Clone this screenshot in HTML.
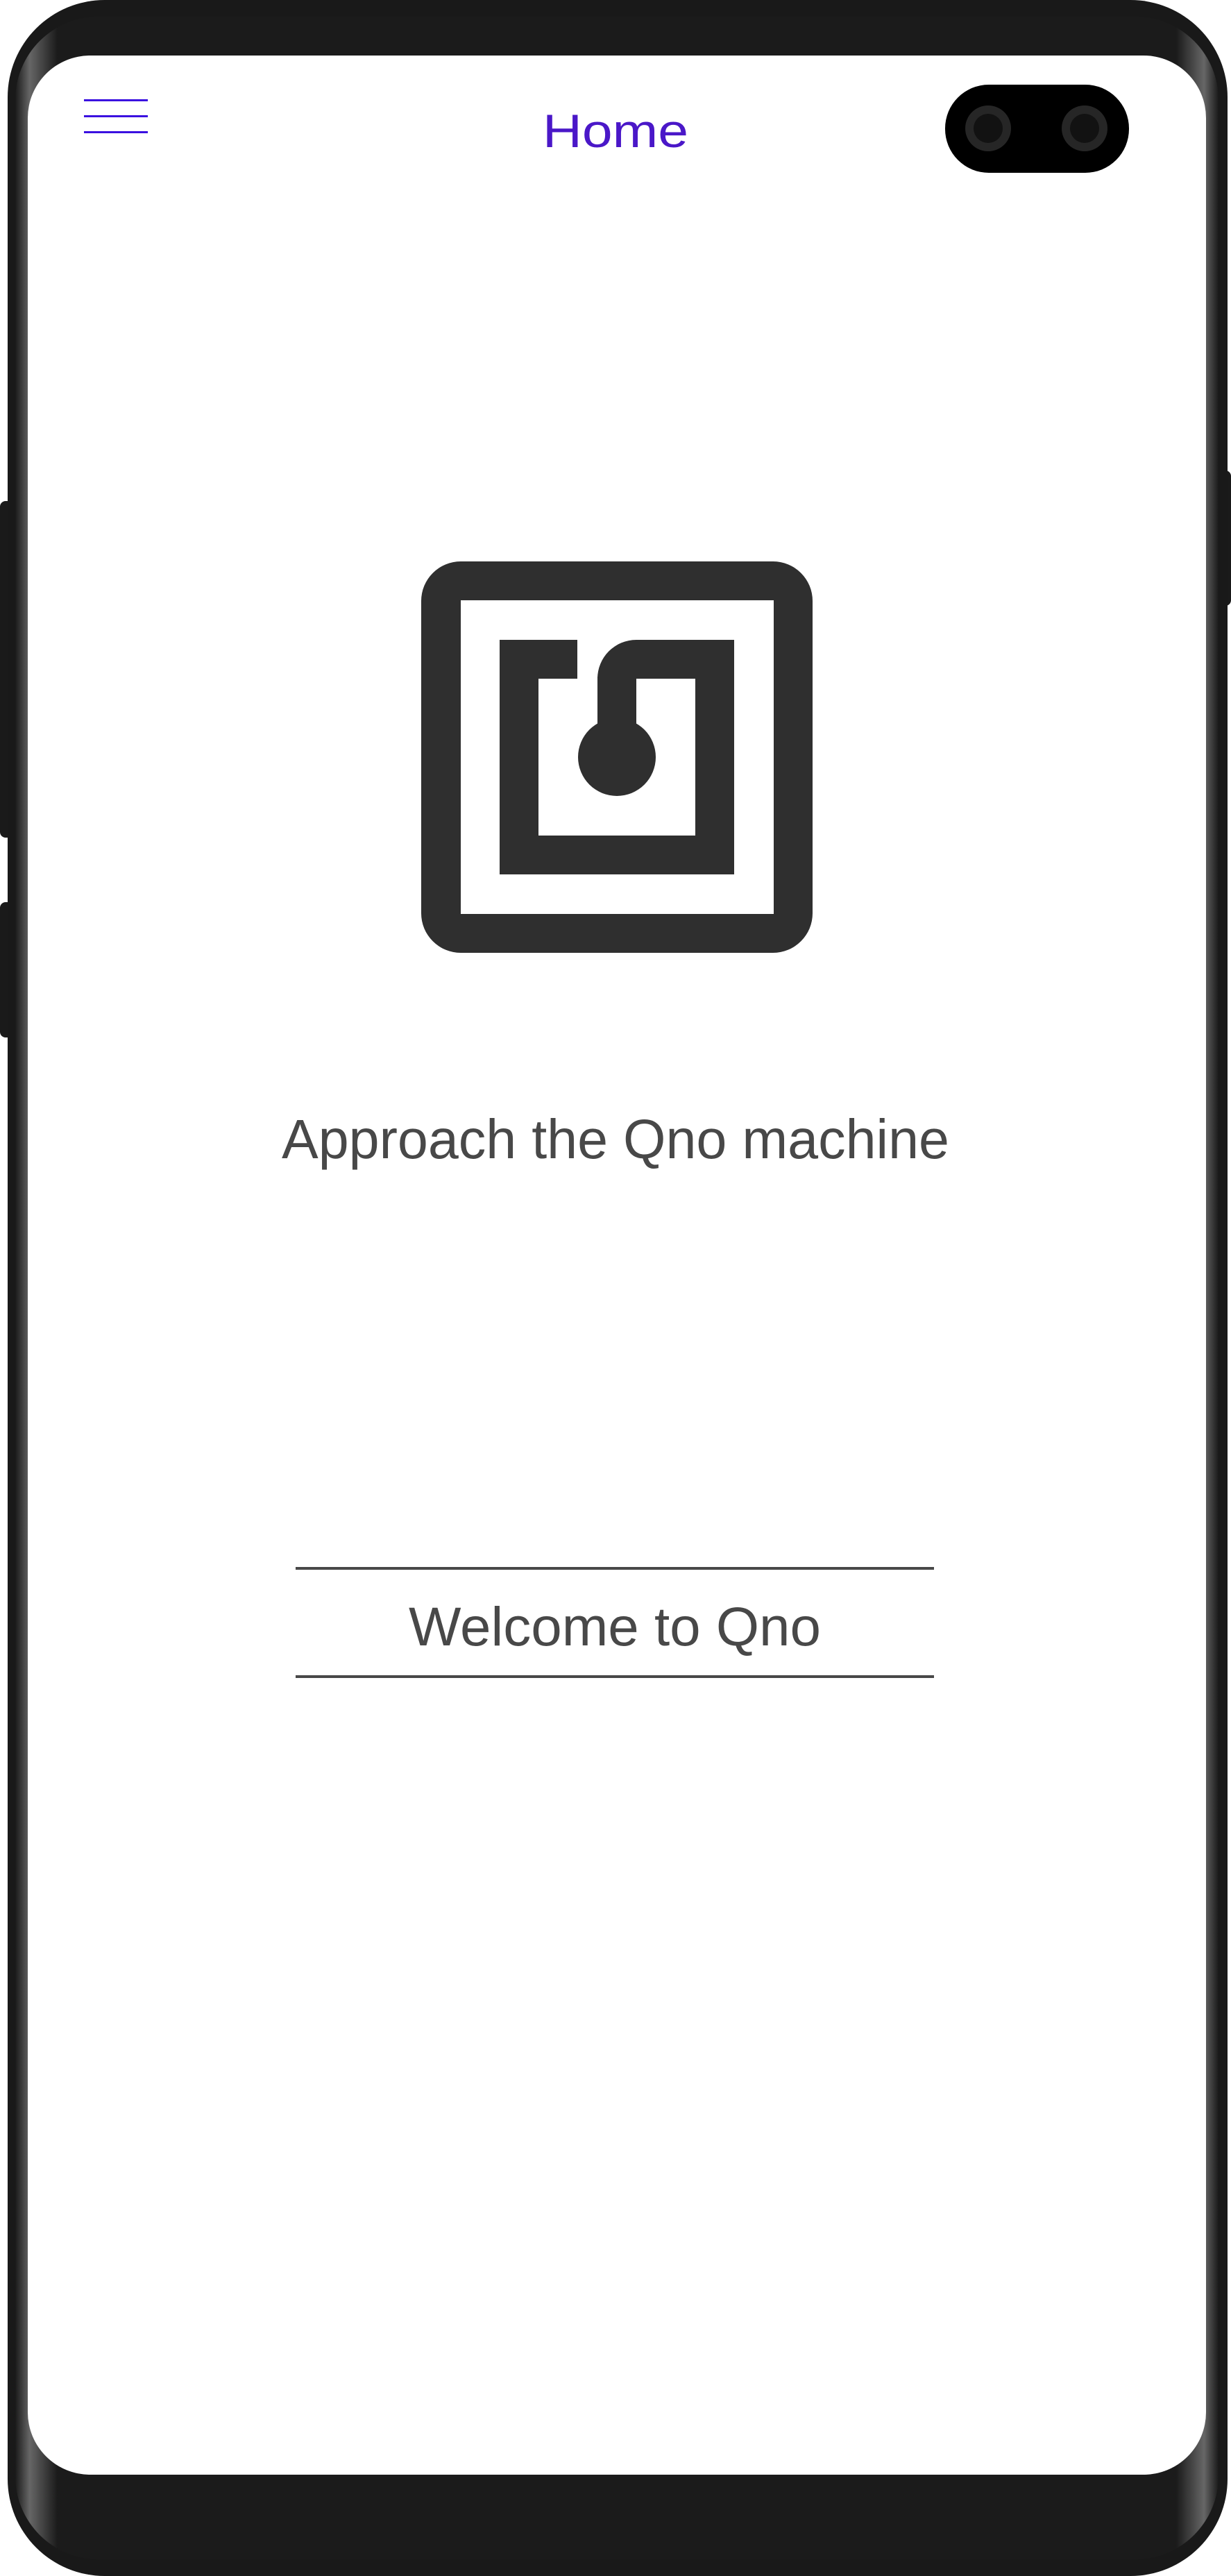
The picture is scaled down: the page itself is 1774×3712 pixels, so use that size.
<!DOCTYPE html>
<html><head><meta charset="utf-8"><style>html,body{margin:0;padding:0;background:#fff}svg{display:block}</style></head>
<body>
<svg width="1774" height="3712" viewBox="0 0 1774 3712" xmlns="http://www.w3.org/2000/svg">
<defs>
<linearGradient id="edge" x1="0" x2="1" y1="0" y2="0">
<stop offset="0" stop-color="#1a1a1a"/><stop offset="0.012" stop-color="#666"/><stop offset="0.035" stop-color="#1b1b1b"/>
<stop offset="0.965" stop-color="#1b1b1b"/><stop offset="0.988" stop-color="#666"/><stop offset="1" stop-color="#1a1a1a"/>
</linearGradient>
</defs>
<rect x="0" y="722" width="22" height="485" rx="8" fill="#1a1a1a"/>
<rect x="0" y="1300" width="22" height="195" rx="8" fill="#1a1a1a"/>
<rect x="1752" y="678" width="22" height="195" rx="8" fill="#1a1a1a"/>
<rect x="11" y="0" width="1758" height="3712" rx="140" fill="#191919"/>
<rect x="22" y="24" width="1734" height="3664" rx="120" fill="url(#edge)"/>
<rect x="40" y="80" width="1698" height="3486" rx="90" fill="#fff"/>
<rect x="121" y="143" width="92" height="3" fill="#3a10e0"/>
<rect x="121" y="166" width="92" height="3" fill="#3a10e0"/>
<rect x="121" y="189" width="92" height="3" fill="#3a10e0"/>
<text x="887" y="212" text-anchor="middle" font-family="Liberation Sans, sans-serif" font-size="68" fill="#4a17c8" textLength="210" lengthAdjust="spacingAndGlyphs">Home</text>
<rect x="1362" y="122" width="265" height="127" rx="63" fill="#000"/>
<circle cx="1424" cy="185" r="33" fill="#262626"/><circle cx="1424" cy="185" r="21" fill="#121212"/>
<circle cx="1563" cy="185" r="33" fill="#262626"/><circle cx="1563" cy="185" r="21" fill="#121212"/>
<g fill="#2f2f2f">
<path fill-rule="evenodd" d="M664 809 H1114 A57 57 0 0 1 1171 866 V1316 A57 57 0 0 1 1114 1373 H664 A57 57 0 0 1 607 1316 V866 A57 57 0 0 1 664 809 Z M664 865 V1317 H1115 V865 Z"/>
<path d="M720 922 H832 V978 H776 V1204 H1002 V978 H917 V1040 L861 1040 V978 A56 56 0 0 1 917 922 H1058 V1260 H720 Z"/>
<circle cx="889" cy="1091" r="56"/>
<rect x="861" y="975" width="56" height="80"/>
</g>
<text x="887" y="1669" text-anchor="middle" font-family="Liberation Sans, sans-serif" font-size="80" fill="#484848" textLength="962" lengthAdjust="spacingAndGlyphs">Approach the Qno machine</text>
<rect x="426" y="2258" width="920" height="4" fill="#484848"/>
<rect x="426" y="2414" width="920" height="4" fill="#484848"/>
<text x="886" y="2371" text-anchor="middle" font-family="Liberation Sans, sans-serif" font-size="79" fill="#484848" textLength="594" lengthAdjust="spacingAndGlyphs">Welcome to Qno</text>
</svg>
</body></html>
